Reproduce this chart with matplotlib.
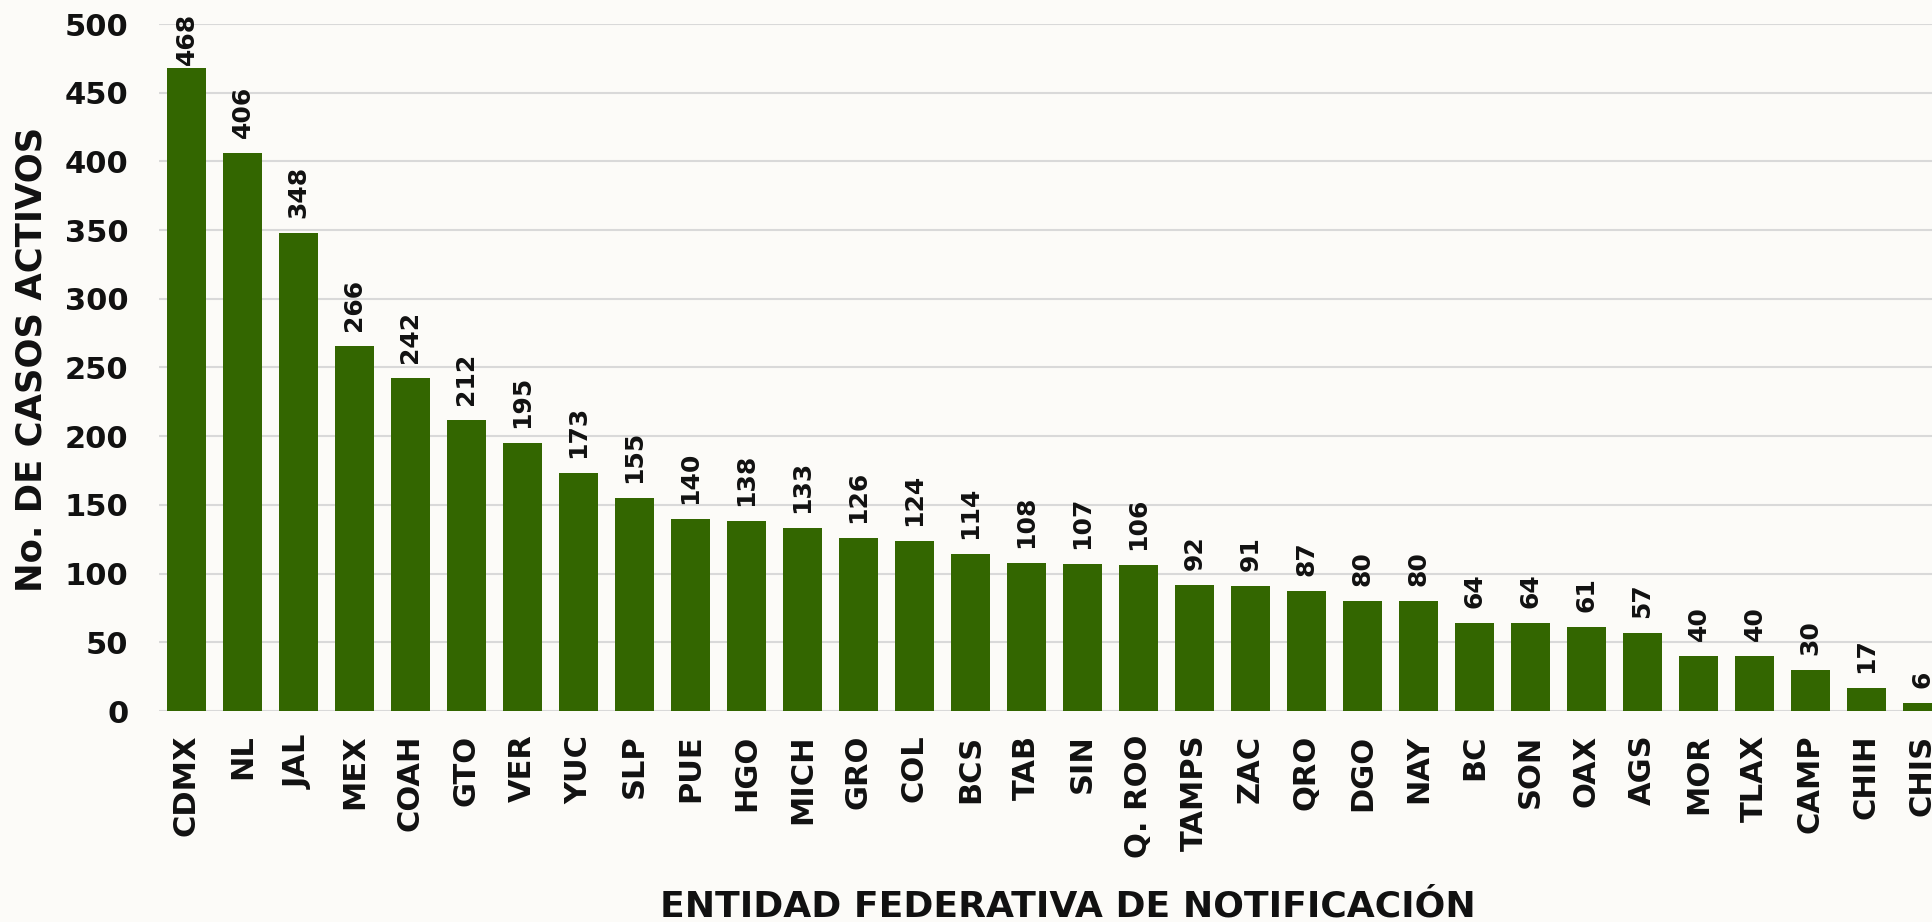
import matplotlib
matplotlib.use("Agg")
import matplotlib.pyplot as plt

categories = ["CDMX", "NL", "JAL", "MEX", "COAH", "GTO", "VER", "YUC", "SLP", "PUE",
              "HGO", "MICH", "GRO", "COL", "BCS", "TAB", "SIN", "Q. ROO", "TAMPS", "ZAC",
              "QRO", "DGO", "NAY", "BC", "SON", "OAX", "AGS", "MOR", "TLAX", "CAMP",
              "CHIH", "CHIS"]
values = [468, 406, 348, 266, 242, 212, 195, 173, 155, 140,
          138, 133, 126, 124, 114, 108, 107, 106, 92, 91,
          87, 80, 80, 64, 64, 61, 57, 40, 40, 30,
          17, 6]
yticks = [0, 50, 100, 150, 200, 250, 300, 350, 400, 450, 500]

plt.rcParams['font.family'] = ['DejaVu Sans']
W, H = 1932, 922
fig = plt.figure(figsize=(W / 100, H / 100), dpi=100)
bg = '#fcfbf8'
fig.patch.set_facecolor(bg)
ax = fig.add_axes([159 / W, (H - 711) / H, 1 - 159 / W, (711 - 24) / H])
ax.set_facecolor('none')

x = list(range(len(categories)))
ax.bar(x, values, width=0.7, color='#336600', zorder=3)
ax.set_xlim(-0.49, 31.17)
ax.set_ylim(0, 500)

# data labels: outside end, pushed down when near the top of the figure
fig.canvas.draw()
label_len_px = 54
for xi, v in zip(x, values):
    bar_top_px = ax.transData.transform((xi, v))[1]
    room = (H - 11) - bar_top_px - label_len_px
    off = max(2, min(15, room))
    ax.annotate(str(v), (xi, v), xytext=(0, off), textcoords='offset pixels',
                rotation=90, ha='center', va='bottom', fontsize=18,
                fontweight='bold', color='#111111', zorder=4, annotation_clip=False)

ax.set_yticks(yticks)
ax.set_yticklabels([str(t) for t in yticks], fontsize=22, fontweight='bold', color='#111111')
ax.set_xticks(x)
ax.set_xticklabels(categories, rotation=90, fontsize=22, fontweight='bold', color='#111111')
ax.tick_params(axis='y', length=0, pad=22)
ax.tick_params(axis='x', length=0, pad=17)
ax.grid(axis='y', color='#d9d9d9', linewidth=1.5, zorder=0)
for s in ax.spines.values():
    s.set_visible(False)

fig.text(32 / W, 1 - 359 / H, "No. DE CASOS ACTIVOS", rotation=90, ha='center', va='center',
         fontsize=25.5, fontweight='bold', color='#111111')
fig.text(1068 / W, 1 - 906 / H, "ENTIDAD FEDERATIVA DE NOTIFICACIÓN", ha='center', va='center',
         fontsize=26, fontweight='bold', color='#111111')

fig.savefig('out.png', dpi=100, facecolor=bg)
